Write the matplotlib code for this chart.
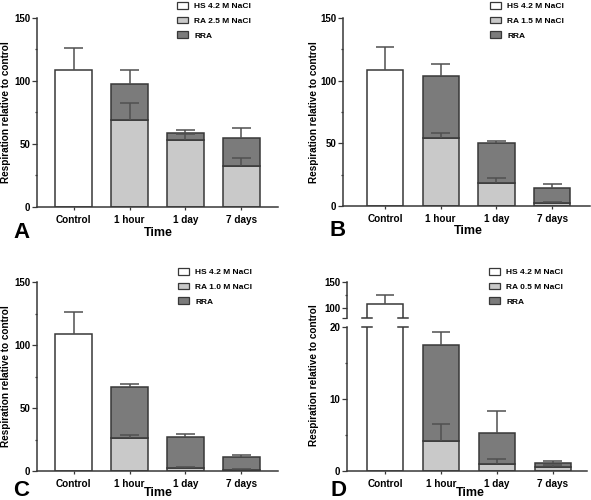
import matplotlib
matplotlib.use("Agg")
import matplotlib.pyplot as plt
from matplotlib.patches import Patch
import numpy as np

plt.rcParams['font.family'] = ['Liberation Sans', 'DejaVu Sans']
plt.rcParams['font.weight'] = 'bold'

categories = ["Control", "1 hour", "1 day", "7 days"]
legend_hs = "HS 4.2 M NaCl"
legend_rra = "RRA"

# Panel A
A_ra_label = "RA 2.5 M NaCl"
A_hs = 108.5
A_hs_err = 18
A_ra = [69, 53, 32.5]
A_ra_err = [13.5, 5, 6]
A_total = [98, 59, 54.5]
A_total_err = [11, 2.5, 8]

# Panel B
B_ra_label = "RA 1.5 M NaCl"
B_hs = 108.5
B_hs_err = 18
B_ra = [54, 18.6, 2.1]
B_ra_err = [4.5, 3.4, 0.9]
B_total = [103.7, 50, 14]
B_total_err = [9.3, 2, 3.3]

# Panel C
C_ra_label = "RA 1.0 M NaCl"
C_hs = 108.5
C_hs_err = 18
C_ra = [26.5, 2.1, 0.8]
C_ra_err = [2.1, 0.8, 0.5]
C_total = [67, 26.7, 11.4]
C_total_err = [1.8, 2.3, 1.3]

# Panel D (broken axis)
D_ra_label = "RA 0.5 M NaCl"
D_hs = 108
D_hs_err = 18
D_ra = [4.17, 1.0, 0.6]
D_ra_err = [2.3, 0.6, 0.23]
D_total = [17.45, 5.3, 1.16]
D_total_err = [1.9, 3.0, 0.23]

W, H = 591, 500
fig = plt.figure(figsize=(W / 100, H / 100), dpi=100)

C_WHITE = "#ffffff"
C_LIGHT = "#c9c9c9"
C_DARK = "#7b7b7b"
C_EDGE = "#383838"
C_ERR = "#505050"
LW = 1.1


def px_axes(left, right, top, bottom):
    return fig.add_axes([left / W, 1 - bottom / H, (right - left) / W, (bottom - top) / H])


def style_axes(ax, fs=7):
    for s in ["top", "right"]:
        ax.spines[s].set_visible(False)
    for s in ["left", "bottom"]:
        ax.spines[s].set_linewidth(LW)
        ax.spines[s].set_color(C_EDGE)
    ax.tick_params(axis="y", which="major", direction="out", length=3.5, width=0.9,
                   color=C_EDGE, pad=1.5, labelsize=fs)
    ax.tick_params(axis="y", which="minor", direction="out", length=1.8, width=0.9, color=C_EDGE)
    ax.tick_params(axis="x", which="major", direction="out", length=2.5, width=0.9,
                   color=C_EDGE, pad=3, labelsize=7.2)
    for lab in ax.get_xticklabels() + ax.get_yticklabels():
        lab.set_fontweight("bold")


def err_up(ax, x, y, e, cap):
    ax.vlines(x, y, y + e, color=C_ERR, lw=1.1, zorder=4)
    ax.hlines(y + e, x - cap, x + cap, color=C_ERR, lw=1.1, zorder=4)


def draw_bars(ax, hs, hs_err, ra, ra_err, total, total_err, width):
    x = np.arange(len(categories))
    cap = width * 0.26
    ax.bar(x[0], hs, width, color=C_WHITE, edgecolor=C_EDGE, linewidth=LW, zorder=2)
    err_up(ax, x[0], hs, hs_err, cap)
    xs = x[1:]
    ra = np.array(ra)
    total = np.array(total)
    ax.bar(xs, ra, width, color=C_LIGHT, edgecolor=C_EDGE, linewidth=LW, zorder=2)
    ax.bar(xs, total - ra, width, bottom=ra, color=C_DARK, edgecolor=C_EDGE, linewidth=LW, zorder=2)
    for xi, r, re, t, te in zip(xs, ra, ra_err, total, total_err):
        err_up(ax, xi, r, re, cap)
        err_up(ax, xi, t, te, cap)
    ax.set_xticks(x)
    ax.set_xticklabels(categories)


def add_legend(ax, ra_label, x_px, y_px):
    handles = [Patch(facecolor=C_WHITE, edgecolor=C_EDGE, linewidth=0.9),
               Patch(facecolor=C_LIGHT, edgecolor=C_EDGE, linewidth=0.9),
               Patch(facecolor=C_DARK, edgecolor=C_EDGE, linewidth=0.9)]
    leg = ax.legend(handles, [legend_hs, ra_label, legend_rra], loc="upper left",
                    bbox_to_anchor=(x_px / W, 1 - y_px / H), bbox_transform=fig.transFigure,
                    frameon=False, prop={"weight": "bold", "size": 6},
                    handlelength=1.35, handleheight=0.85, handletextpad=0.7,
                    labelspacing=0.78, borderpad=0, borderaxespad=0)
    return leg


def labels(ylab_x, ylab_y, time_x, time_y, letter, let_x, let_y):
    fig.text(ylab_x / W, 1 - ylab_y / H, "Respiration relative to control", rotation=90,
             ha="center", va="center", fontsize=7.2, fontweight="bold")
    fig.text(time_x / W, 1 - time_y / H, "Time", ha="center", va="center",
             fontsize=9, fontweight="bold")
    fig.text(let_x / W, 1 - let_y / H, letter, ha="center", va="center",
             fontsize=16, fontweight="bold")


def std_panel(left, right, top, bottom, xl, xr, width, hs, hs_err, ra, ra_err, total, total_err):
    ax = px_axes(left, right, top, bottom)
    draw_bars(ax, hs, hs_err, ra, ra_err, total, total_err, width)
    ax.set_ylim(0, 150)
    ax.set_xlim(xl, xr)
    ax.set_yticks([0, 50, 100, 150])
    ax.set_yticks([25, 75, 125], minor=True)
    style_axes(ax)
    return ax


# Panel A
axA = std_panel(37, 278, 18, 207, -0.652, 3.652, 0.66, A_hs, A_hs_err, A_ra, A_ra_err, A_total, A_total_err)
add_legend(axA, A_ra_label, 177, 2)
labels(6, 112, 158, 233, "A", 22, 232)

# Panel B
axB = std_panel(343, 590, 18, 206, -0.754, 3.68, 0.65, B_hs, B_hs_err, B_ra, B_ra_err, B_total, B_total_err)
add_legend(axB, B_ra_label, 490, 2)
labels(314, 112, 468, 231, "B", 338, 231)

# Panel C
axC = std_panel(37, 278, 282, 471, -0.652, 3.652, 0.66, C_hs, C_hs_err, C_ra, C_ra_err, C_total, C_total_err)
add_legend(axC, C_ra_label, 178, 268)
labels(6, 376, 158, 493, "C", 21, 490)

# Panel D: broken y axis
d_xl, d_xr, d_w = -0.68, 3.61, 0.65
axDu = px_axes(347, 587, 282, 318)
axDl = px_axes(347, 587, 327, 471)
for ax in (axDu, axDl):
    draw_bars(ax, D_hs, D_hs_err, D_ra, D_ra_err, D_total, D_total_err, d_w)
    ax.set_xlim(d_xl, d_xr)
axDu.set_ylim(81, 150)
axDu.set_yticks([81, 100, 150])
axDu.set_yticklabels(["", "100", "150"])
axDu.set_yticks([125], minor=True)
axDl.set_ylim(0, 20)
axDl.set_yticks([0, 10, 20])
axDl.set_yticks([5, 15], minor=True)
style_axes(axDu)
style_axes(axDl)
axDu.spines["bottom"].set_visible(False)
axDu.tick_params(axis="x", which="both", bottom=False, labelbottom=False)
# break marks on the control bar edges
mk = 0.085
for xe in (-d_w / 2, d_w / 2):
    axDl.plot([xe - mk, xe + mk], [20, 20], color=C_EDGE, lw=LW, clip_on=False, zorder=5)
    axDu.plot([xe - mk, xe + mk], [81, 81], color=C_EDGE, lw=LW, clip_on=False, zorder=5)
add_legend(axDl, D_ra_label, 489, 268)
labels(314, 375, 470, 493, "D", 338, 490)

fig.savefig("out.png", dpi=100)
